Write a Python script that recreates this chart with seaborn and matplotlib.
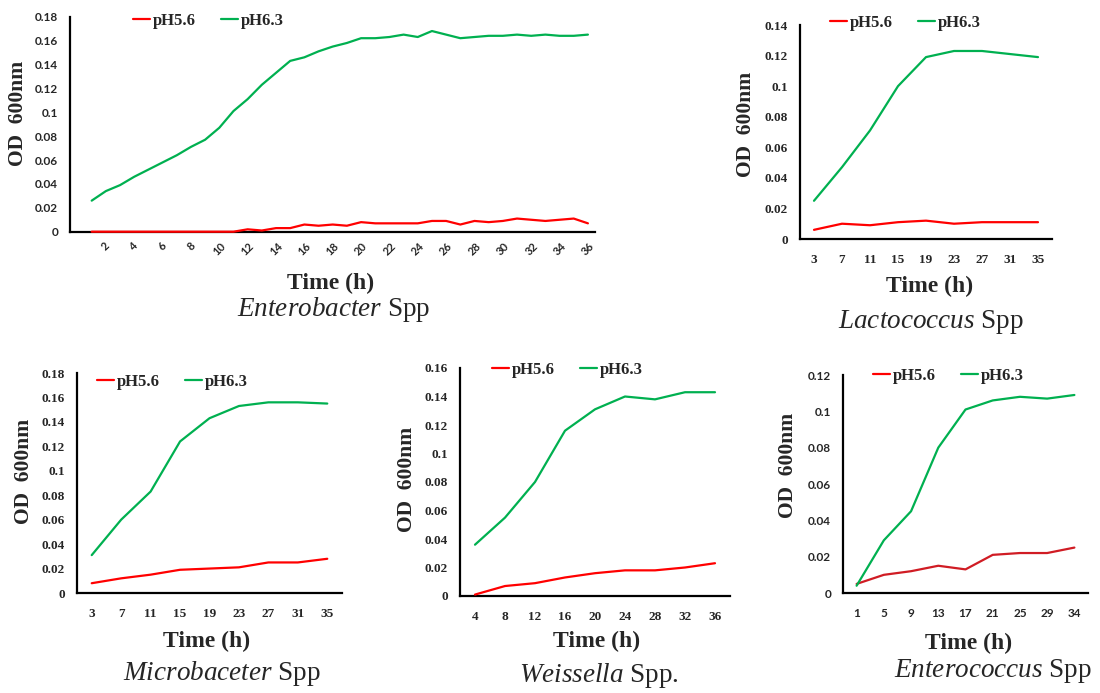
import numpy as np
import pandas as pd
import seaborn as sns
import matplotlib.pyplot as plt
from matplotlib.lines import Line2D

# ---- data (OD 600nm) ----
# Enterobacter: hourly readings 1..36
ent_hours = list(range(1, 37))
ent_ph56 = [0, 0, 0, 0, 0, 0, 0, 0, 0, 0, 0,
            0.002, 0.001, 0.003, 0.003, 0.006, 0.005, 0.006, 0.005, 0.008,
            0.007, 0.007, 0.007, 0.007, 0.009, 0.009, 0.006, 0.009, 0.008,
            0.009, 0.011, 0.010, 0.009, 0.010, 0.011, 0.007]
ent_ph63 = [0.026, 0.034, 0.039, 0.046, 0.052, 0.058, 0.064, 0.071, 0.077, 0.087,
            0.101, 0.111, 0.123, 0.133, 0.143, 0.146, 0.151, 0.155, 0.158, 0.162,
            0.162, 0.163, 0.165, 0.163, 0.168, 0.165, 0.162, 0.163, 0.164, 0.164,
            0.165, 0.164, 0.165, 0.164, 0.164, 0.165]

lac_hours = ['3', '7', '11', '15', '19', '23', '27', '31', '35']
lac_ph56 = [0.006, 0.010, 0.009, 0.011, 0.012, 0.010, 0.011, 0.011, 0.011]
lac_ph63 = [0.025, 0.047, 0.071, 0.100, 0.119, 0.123, 0.123, 0.121, 0.119]

mic_hours = ['3', '7', '11', '15', '19', '23', '27', '31', '35']
mic_ph56 = [0.008, 0.012, 0.015, 0.019, 0.020, 0.021, 0.025, 0.025, 0.028]
mic_ph63 = [0.031, 0.060, 0.083, 0.124, 0.143, 0.153, 0.156, 0.156, 0.155]

wei_hours = ['4', '8', '12', '16', '20', '24', '28', '32', '36']
wei_ph56 = [0.001, 0.007, 0.009, 0.013, 0.016, 0.018, 0.018, 0.020, 0.023]
wei_ph63 = [0.036, 0.055, 0.080, 0.116, 0.131, 0.140, 0.138, 0.143, 0.143]

enc_hours = ['1', '5', '9', '13', '17', '21', '25', '29', '34']
enc_ph56 = [0.005, 0.010, 0.012, 0.015, 0.013, 0.021, 0.022, 0.022, 0.025]
enc_ph63 = [0.004, 0.029, 0.045, 0.080, 0.101, 0.106, 0.108, 0.107, 0.109]

series_names = ['pH5.6', 'pH6.3']

W, H = 1100, 693
RED = '#FF0000'
GREEN = '#00B050'

sns.set_theme(style='white')
plt.rcParams['font.family'] = ['Liberation Serif', 'DejaVu Serif']
plt.rcParams['mathtext.fontset'] = 'custom'
plt.rcParams['mathtext.it'] = 'Liberation Serif:italic'
plt.rcParams['mathtext.rm'] = 'Liberation Serif'

fig = plt.figure(figsize=(11, 6.93), dpi=100)
fig.patch.set_facecolor('white')


def fx(x):
    return x / W


def fy(y):
    return 1 - y / H


def panel(box, x, low, high, ymax, tick_family, tick_size, red_line=RED):
    left, right, top, bottom = box
    ax = fig.add_axes([fx(left), fy(bottom), (right - left) / W, (bottom - top) / H])
    df = pd.DataFrame({
        'x': list(x) * 2,
        'od': list(low) + list(high),
        'ph': [series_names[0]] * len(low) + [series_names[1]] * len(high),
    })
    sns.lineplot(data=df, x='x', y='od', hue='ph', ax=ax,
                 palette={series_names[0]: red_line, series_names[1]: GREEN},
                 linewidth=1.6, legend=False, zorder=3, clip_on=False)
    sns.despine(ax=ax)
    for s in ['left', 'bottom']:
        ax.spines[s].set_color('black')
        ax.spines[s].set_linewidth(1.6)
    ax.set_ylim(0, ymax)
    yt = np.round(np.arange(0, ymax + 1e-9, 0.02), 2)
    ax.set_yticks(yt)
    ax.set_yticklabels([f'{v:g}' for v in yt], family=tick_family,
                       fontweight='bold', fontsize=tick_size)
    ax.tick_params(axis='both', length=0)
    ax.tick_params(axis='y', pad=8.5)
    ax.set_xlabel('')
    ax.set_ylabel('')
    ax.set_facecolor('white')
    return ax


def texts(ax, legend_xy, od_xy, time_xy, title_xy, title):
    handles = [Line2D([], [], color=RED, lw=1.6), Line2D([], [], color=GREEN, lw=1.6)]
    ax.legend(handles, series_names, loc='center left',
              bbox_to_anchor=(fx(legend_xy[0]), fy(legend_xy[1])),
              bbox_transform=fig.transFigure, ncol=2, frameon=False,
              borderpad=0, borderaxespad=0, handlelength=1.0,
              handletextpad=0.2, columnspacing=1.5,
              prop={'family': 'Liberation Serif', 'weight': 'bold', 'size': 12})
    fig.text(fx(od_xy[0]), fy(od_xy[1]), 'OD  600nm', rotation=90,
             ha='center', va='center', fontsize=15.5, fontweight='bold')
    fig.text(fx(time_xy[0]), fy(time_xy[1]), 'Time (h)', ha='center',
             va='center', fontsize=17, fontweight='bold')
    fig.text(fx(title_xy[0]), fy(title_xy[1]), title, ha='center',
             va='center', fontsize=19.5)


# Enterobacter (top left)
ax1 = panel((70, 595, 16.7, 231.7), ent_hours, ent_ph56, ent_ph63, 0.18, 'Lato', 8.5)
ax1.set_xlim(-0.53, 36.5)
ax1.set_xticks(ent_hours[1::2])
ax1.set_xticklabels([str(h) for h in ent_hours[1::2]], rotation=45,
                    family='Lato', fontweight='bold', fontsize=8)
ax1.tick_params(axis='x', pad=6)
texts(ax1, (133, 21), (18, 113), (331, 283), (334, 309), r'$\it{Enterobacter}$ Spp')

# Lactococcus (top right)
ax2 = panel((800, 1052, 25, 239), range(9), lac_ph56, lac_ph63, 0.14, 'Liberation Serif', 9.5)
texts(ax2, (830, 23), (746, 124), (930, 286), (931, 322), r'$\it{Lactococcus}$ Spp')

# Microbaceter (bottom left)
ax3 = panel((77, 342, 373, 593), range(9), mic_ph56, mic_ph63, 0.18, 'Liberation Serif', 9.5)
texts(ax3, (97, 382), (24, 471), (207, 641), (222, 674), r'$\it{Microbaceter}$ Spp')

# Weissella (bottom middle)
ax4 = panel((460, 730, 368, 596), range(9), wei_ph56, wei_ph63, 0.16, 'Liberation Serif', 9.5)
texts(ax4, (492, 370), (407, 479), (597, 641), (599, 675), r'$\it{Weissella}$ Spp.')

# Enterococcus (bottom right)
ax5 = panel((843, 1088, 375, 593), range(9), enc_ph56, enc_ph63, 0.12, 'Lato', 8.5,
            red_line='#D01C24')
texts(ax5, (873, 376), (788, 465), (969, 643), (993, 671), r'$\it{Enterococcus}$ Spp')

for ax, labels, fam, size in [(ax2, lac_hours, 'Liberation Serif', 9.5),
                              (ax3, mic_hours, 'Liberation Serif', 9.5),
                              (ax4, wei_hours, 'Liberation Serif', 9.5),
                              (ax5, enc_hours, 'Lato', 8.5)]:
    ax.set_xlim(-0.5, 8.5)
    ax.set_xticks(range(len(labels)))
    ax.set_xticklabels(labels, family=fam, fontweight='bold', fontsize=size)
    ax.tick_params(axis='x', pad=11)

plt.savefig('out.png', dpi=100, facecolor='white')
